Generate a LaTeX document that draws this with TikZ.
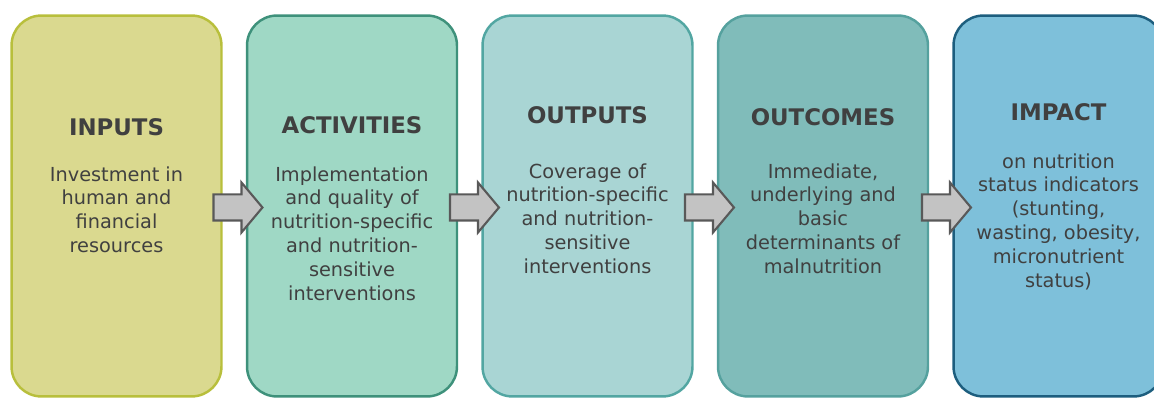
\documentclass[tikz,border=0pt]{standalone}
\usepackage{fontspec}
\setmainfont{DejaVu Sans}
\usetikzlibrary{shapes.arrows}

\definecolor{textgray}{HTML}{404040}
\definecolor{inputfill}{HTML}{DAD98F}
\definecolor{inputdraw}{HTML}{B8BF3C}
\definecolor{activfill}{HTML}{9FD8C5}
\definecolor{activdraw}{HTML}{3E917B}
\definecolor{outputfill}{HTML}{A9D5D4}
\definecolor{outputdraw}{HTML}{52A6A2}
\definecolor{outcomefill}{HTML}{80BCBA}
\definecolor{outcomedraw}{HTML}{55A19E}
\definecolor{impactfill}{HTML}{7EC0DA}
\definecolor{impactdraw}{HTML}{1D5E7E}
\definecolor{flowfill}{HTML}{C3C3C3}
\definecolor{flowdraw}{HTML}{595959}

\begin{document}
\begin{tikzpicture}[x=0.02cm,y=-0.02cm]
    \tikzstyle{stage}=[rectangle,rounded corners=0.6cm,line width=1.4pt,minimum width=4.2cm,minimum height=7.62cm,inner sep=0pt]
    \tikzstyle{title}=[font=\fontsize{13}{15}\selectfont\bfseries,text=textgray,inner sep=0pt]
    \tikzstyle{body}=[font=\fontsize{11}{13.6}\selectfont,text=textgray,align=center,anchor=north,inner sep=0pt]
    \tikzstyle{flow}=[single arrow,draw=flowdraw,fill=flowfill,line width=1.2pt,minimum height=0.98cm,inner xsep=0pt,inner ysep=0.24cm,single arrow head extend=0.24cm,single arrow tip angle=100]

    \useasboundingbox (0,0) rectangle (1154,401);
    \clip (0,0) rectangle (1154,401);

    \node[stage,fill=inputfill,draw=inputdraw] (S-1) at (116.5,206) {};
    \node[stage,fill=activfill,draw=activdraw] (S-2) at (352,206) {};
    \node[stage,fill=outputfill,draw=outputdraw] (S-3) at (587.5,206) {};
    \node[stage,fill=outcomefill,draw=outcomedraw] (S-4) at (823,206) {};
    \node[stage,fill=impactfill,draw=impactdraw] (S-5) at (1058.5,206) {};

    % Stage titles and descriptions
    \node[title] (T-1) at (116.5,127) {INPUTS};
    \node[body] (D-1) at (116.5,166) {Investment in\\human and\\financial\\resources};

    \node[title] (T-2) at (352,125) {ACTIVITIES};
    \node[body] (D-2) at (352,166) {Implementation\\and quality of\\nutrition-specific\\and nutrition-\\sensitive\\interventions};

    \node[title] (T-3) at (587.5,115) {OUTPUTS};
    \node[body] (D-3) at (587.5,163) {Coverage of\\nutrition-specific\\and nutrition-\\sensitive\\interventions};

    \node[title] (T-4) at (823,117) {OUTCOMES};
    \node[body] (D-4) at (823,163) {Immediate,\\underlying and\\basic\\determinants of\\malnutrition};

    \node[title] (T-5) at (1058.5,112) {IMPACT};
    \node[body] (D-5) at (1058.5,153) {on nutrition\\status indicators\\(stunting,\\wasting, obesity,\\micronutrient\\status)};

    % Arrows from one stage to the next
    \foreach \source/\x in {1/232.5,2/469,3/704,4/941}
        \node[flow] (A-\source) at (\x,207.5) {};

\end{tikzpicture}
\end{document}
